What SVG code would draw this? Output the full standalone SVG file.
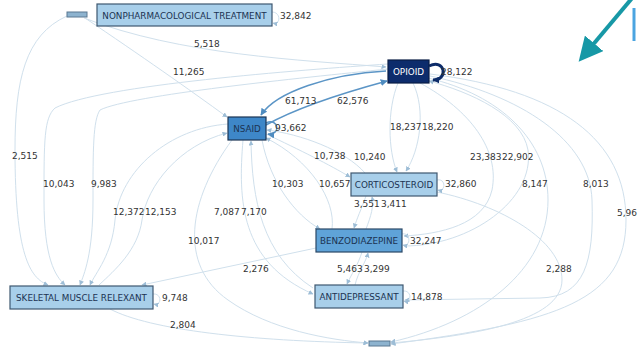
<svg xmlns="http://www.w3.org/2000/svg" width="639" height="347" viewBox="0 0 639 347">
<defs>
<marker id="ah" viewBox="0 0 10 10" refX="9" refY="5" markerWidth="5" markerHeight="5" orient="auto" markerUnits="userSpaceOnUse"><path d="M0,0 L10,5 L0,10 z" fill="#9dbdd6"/></marker>
<marker id="ahd" viewBox="0 0 10 10" refX="9" refY="5" markerWidth="7" markerHeight="7" orient="auto" markerUnits="userSpaceOnUse"><path d="M0,0 L10,5 L0,10 z" fill="#4f8cc0"/></marker>
<marker id="ahn" viewBox="0 0 10 10" refX="9" refY="5" markerWidth="7" markerHeight="7" orient="auto" markerUnits="userSpaceOnUse"><path d="M0,0 L10,5 L0,10 z" fill="#0c2b69"/></marker>
<marker id="teal" viewBox="0 0 10 10" refX="2" refY="5" markerWidth="24" markerHeight="24" orient="auto" markerUnits="userSpaceOnUse"><path d="M0,0 L10,5 L0,10 z" fill="#1798a6"/></marker>
</defs>
<style>
.e{fill:none;stroke:#d0e0ec;stroke-width:1;marker-end:url(#ah)}
.ed{fill:none;stroke:#5b95c6;stroke-width:1.5;marker-end:url(#ahd)}
.lbl{font-family:"DejaVu Sans",sans-serif;font-size:9px;fill:#333}
.nl{fill:#a8cfea;stroke:#3e5870;stroke-width:1.2}
.nt{font-family:"DejaVu Sans",sans-serif;font-size:8.8px;fill:#1c3352;text-anchor:middle}
.sm{fill:#8db3cf;stroke:#5a7892;stroke-width:1}
</style>
<rect width="639" height="347" fill="#ffffff"/>
<g id="connectors">
<path class="e" d="M84,18 C180,55 300,60 386,67"/>
<path class="e" d="M85,18 C140,55 190,90 227,117"/>
<path class="e" d="M67,16 C25,35 15,80 15,150 C15,255 30,278 48,285"/>
<path class="e" d="M388,64 C300,70 100,85 55,108 C44,118 44,140 44,200 C44,258 55,276 65,285"/>
<path class="e" d="M388,69 C300,78 130,95 100,110 C93,120 93,150 93,200 C93,255 84,274 80,285"/>
<path class="ed" d="M386,71 C330,74 276,92 261,115"/>
<path class="ed" d="M266,125 C300,106 350,91 387,81"/>
<path class="e" d="M398,83 C387,110 388,150 397,172"/>
<path class="e" d="M413,83 C426,110 420,150 406,171"/>
<path class="e" d="M420,83 C470,110 500,150 492,190 C484,225 440,234 404,236"/>
<path class="e" d="M404,246 C470,246 535,200 528,150 C522,115 470,92 429,81"/>
<path class="e" d="M428,78 C500,95 548,140 548,200 C548,270 480,322 391,342"/>
<path class="e" d="M430,76 C520,95 590,140 592,200 C594,262 585,297 540,298 L405,300"/>
<path class="e" d="M430,74 C560,90 626,140 626,220 C626,300 560,322 391,344"/>
<path class="e" d="M437,192 C500,205 562,240 562,280 C562,322 470,336 391,343"/>
<path class="e" d="M266,134 C300,150 330,165 350,177"/>
<path class="e" d="M365,173 C345,150 300,134 267,130"/>
<path class="e" d="M262,140 C270,182 295,215 320,229"/>
<path class="e" d="M332,229 C336,200 310,160 266,138"/>
<path class="e" d="M366,196 C361,210 357,218 354,228"/>
<path class="e" d="M366,229 C371,216 374,206 372,197"/>
<path class="e" d="M362,252 C358,265 351,275 347,284"/>
<path class="e" d="M355,285 C358,272 366,262 368,253"/>
<path class="e" d="M243,140 C238,200 240,262 313,294"/>
<path class="e" d="M313,288 C262,255 252,200 251,141"/>
<path class="e" d="M232,140 C188,200 178,265 228,300 C270,330 330,340 368,343"/>
<path class="e" d="M228,124 C170,128 120,170 115,220 C112,255 96,272 90,285"/>
<path class="e" d="M99,285 C115,270 138,250 142,220 C147,185 180,145 227,133"/>
<path class="e" d="M316,248 L142,285"/>
<path class="e" d="M110,309 C150,330 250,341 368,343"/>
<path class="e" d="M272,12 C281,12 281,25 273,23"/>
<path fill="none" stroke="#0c2b69" stroke-width="3" marker-end="url(#ahn)" d="M429,66 C445,58 449,80 433,80"/>
<path fill="none" stroke="#5b95c6" stroke-width="1.5" marker-end="url(#ahd)" d="M266,123 C279,117 281,136 268,134"/>
<path class="e" d="M437,180 C446,178 446,192 438,190"/>
<path class="e" d="M402,234 C411,232 411,247 403,245"/>
<path class="e" d="M403,291 C412,290 412,303 404,301"/>
<path class="e" d="M153,294 C162,293 162,306 154,304"/>
<path d="M633,-3 L591,47" stroke="#1798a6" stroke-width="4" fill="none" marker-end="url(#teal)"/>
<line x1="634" y1="8" x2="634" y2="41" stroke="#4ba4e0" stroke-width="3"/>
</g>
<g id="n_small_top"><rect class="sm" x="67" y="12" width="20" height="5"/></g>
<g id="n_nonpharm"><rect class="nl" x="97" y="4" width="175" height="22"/><text class="nt" x="184.5" y="18.5">NONPHARMACOLOGICAL TREATMENT</text></g>
<g id="n_opioid"><rect x="388" y="60" width="41" height="23" fill="#0d2c6c" stroke="#091d45" stroke-width="1.2"/><text class="nt" x="408.5" y="74.5" style="fill:#ffffff">OPIOID</text></g>
<g id="n_nsaid"><rect x="228" y="117" width="38" height="23" fill="#3e87c8" stroke="#1b3454" stroke-width="1.2"/><text class="nt" x="247" y="131.5">NSAID</text></g>
<g id="n_cortico"><rect class="nl" x="351" y="173" width="86" height="23"/><text class="nt" x="394" y="187.5">CORTICOSTEROID</text></g>
<g id="n_benzo"><rect x="316" y="229" width="86" height="23" fill="#5fa3d8" stroke="#2b4866" stroke-width="1.2"/><text class="nt" x="359" y="243.5">BENZODIAZEPINE</text></g>
<g id="n_antidep"><rect class="nl" x="315" y="285" width="88" height="23"/><text class="nt" x="359" y="299.5">ANTIDEPRESSANT</text></g>
<g id="n_skeletal"><rect class="nl" x="10" y="286" width="143" height="23"/><text class="nt" x="81.5" y="300.5">SKELETAL MUSCLE RELEXANT</text></g>
<g id="n_small_bottom"><rect class="sm" x="369" y="341" width="21" height="5"/></g>
<g id="labels">
<text class="lbl" x="280" y="19">32,842</text>
<text class="lbl" x="194" y="47">5,518</text>
<text class="lbl" x="173" y="75">11,265</text>
<text class="lbl" x="441" y="75">28,122</text>
<text class="lbl" x="285" y="104">61,713</text>
<text class="lbl" x="337" y="104">62,576</text>
<text class="lbl" x="275" y="131">93,662</text>
<text class="lbl" x="390" y="130">18,237</text>
<text class="lbl" x="422" y="130">18,220</text>
<text class="lbl" x="12" y="159">2,515</text>
<text class="lbl" x="314" y="159">10,738</text>
<text class="lbl" x="354" y="160">10,240</text>
<text class="lbl" x="470" y="160">23,383</text>
<text class="lbl" x="502" y="160">22,902</text>
<text class="lbl" x="43" y="187">10,043</text>
<text class="lbl" x="91" y="187">9,983</text>
<text class="lbl" x="272" y="187">10,303</text>
<text class="lbl" x="319" y="187">10,657</text>
<text class="lbl" x="445" y="187">32,860</text>
<text class="lbl" x="522" y="187">8,147</text>
<text class="lbl" x="583" y="187">8,013</text>
<text class="lbl" x="113" y="215">12,372</text>
<text class="lbl" x="145" y="215">12,153</text>
<text class="lbl" x="214" y="215">7,087</text>
<text class="lbl" x="241" y="215">7,170</text>
<text class="lbl" x="354" y="207">3,551</text>
<text class="lbl" x="381" y="207">3,411</text>
<text class="lbl" x="617" y="216">5,96</text>
<text class="lbl" x="410" y="244">32,247</text>
<text class="lbl" x="188" y="244">10,017</text>
<text class="lbl" x="243" y="272">2,276</text>
<text class="lbl" x="337" y="272">5,463</text>
<text class="lbl" x="364" y="272">3,299</text>
<text class="lbl" x="546" y="272">2,288</text>
<text class="lbl" x="411" y="300">14,878</text>
<text class="lbl" x="162" y="301">9,748</text>
<text class="lbl" x="170" y="328">2,804</text>
</g>
</svg>
